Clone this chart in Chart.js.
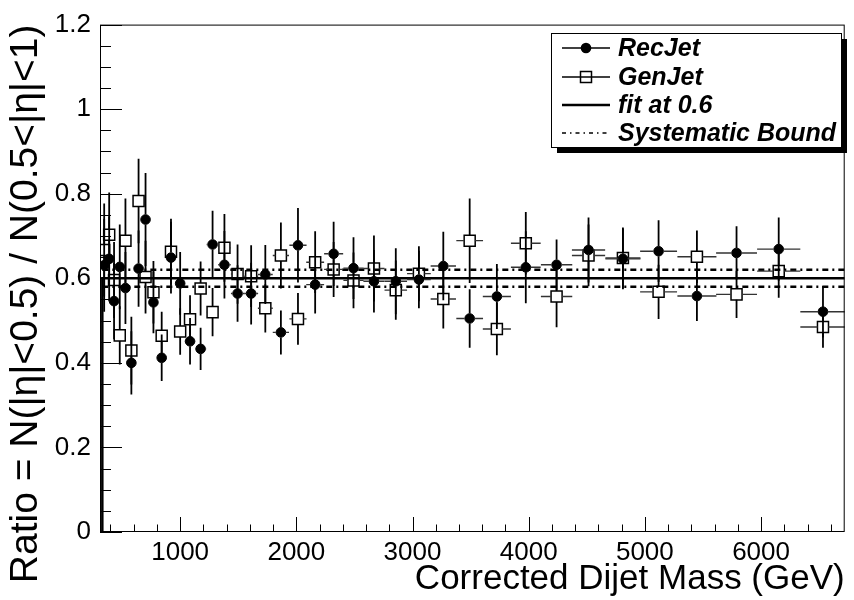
<!DOCTYPE html>
<html><head><meta charset="utf-8">
<script src="https://cdn.jsdelivr.net/npm/chart.js@4/dist/chart.umd.min.js"></script>
<style>html,body{margin:0;padding:0;background:#fff}#wrap{width:854px;height:600px;position:relative}</style>
</head><body><div id="wrap"><canvas id="c"></canvas></div>
<script>
// ---- data ----
const massBins = [346,389,431,480,529,580,642,702,770,841,921,1000,1085,1176,1279,1381,1494,1611,1733,1867,2014,2162,2321,2492,2668,2856,3055,3265,3492,3726,3975,4240,4515,4811,5118,5448,5789,6152,6533];
const massHalfWidth = [21,21,23,24,25,28,30,32,35,38,40,41,44,48,51,54,57,60,64,70,74,77,82,87,91,97,102,109,115,121,128,135,143,151,159,168,176,186,195];
const recRatio = [0.631,0.646,0.546,0.627,0.577,0.400,0.623,0.739,0.543,0.412,0.649,0.588,0.451,0.433,0.680,0.632,0.564,0.564,0.609,0.472,0.678,0.585,0.658,0.624,0.593,0.593,0.597,0.629,0.505,0.557,0.626,0.632,0.667,0.646,0.664,0.558,0.660,0.669,0.521];
const recErr = [0.11,0.10,0.09,0.10,0.085,0.075,0.09,0.11,0.073,0.055,0.085,0.074,0.055,0.05,0.08,0.08,0.067,0.073,0.07,0.052,0.088,0.068,0.076,0.073,0.074,0.078,0.068,0.081,0.069,0.077,0.085,0.06,0.077,0.072,0.073,0.059,0.063,0.075,0.061];
const genRatio = [0.667,0.703,0.596,0.465,0.689,0.429,0.783,0.603,0.567,0.464,0.663,0.474,0.503,0.576,0.520,0.672,0.610,0.605,0.529,0.654,0.504,0.638,0.621,0.595,0.623,0.572,0.611,0.551,0.689,0.480,0.683,0.557,0.654,0.648,0.568,0.651,0.562,0.617,0.485];
const genErr = [0.11,0.10,0.09,0.069,0.10,0.08,0.10,0.086,0.074,0.057,0.078,0.055,0.057,0.064,0.057,0.08,0.07,0.073,0.057,0.078,0.061,0.073,0.065,0.066,0.078,0.07,0.065,0.07,0.10,0.062,0.074,0.073,0.073,0.072,0.064,0.062,0.056,0.063,0.049];
const fitValue = 0.6;
const fitStart = 330;
const systUpper = 0.62;
const systLower = 0.58;
const xRange = [310, 6720];
const yRange = [0, 1.2];
const xTickValues = [1000,2000,3000,4000,5000,6000];
const yTickValues = [0,0.2,0.4,0.6,0.8,1,1.2];

const FONT = "'Liberation Sans', Arial, Helvetica, sans-serif";

function pts(xs, ys){ return xs.map((x,i)=>({x:x, y:ys[i]})); }

const errorBars = {
  id:'errorBars',
  afterDatasetsDraw(chart){
    const {ctx, chartArea:a, scales:{x, y}} = chart;
    ctx.save();
    ctx.beginPath(); ctx.rect(a.left, a.top, a.right-a.left, a.bottom-a.top); ctx.clip();
    chart.data.datasets.forEach(ds=>{
      if(!ds.yErr) return;
      const gap = ds.errGap;
      ds.data.forEach((p,i)=>{
        const px = x.getPixelForValue(p.x), py = y.getPixelForValue(p.y);
        const x0 = x.getPixelForValue(p.x - ds.xErr[i]), x1 = x.getPixelForValue(p.x + ds.xErr[i]);
        const y0 = y.getPixelForValue(p.y + ds.yErr[i]), y1 = y.getPixelForValue(p.y - ds.yErr[i]);
        ctx.strokeStyle = '#000'; ctx.lineWidth = 1.8;
        ctx.beginPath();
        if (py-gap > y0) { ctx.moveTo(px, py-gap); ctx.lineTo(px, y0); }
        if (py+gap < y1) { ctx.moveTo(px, py+gap); ctx.lineTo(px, y1); }
        ctx.stroke();
        ctx.strokeStyle = '#333'; ctx.lineWidth = 1.4;
        ctx.beginPath();
        if (px-gap > x0) { ctx.moveTo(px-gap, py); ctx.lineTo(x0, py); }
        if (px+gap < x1) { ctx.moveTo(px+gap, py); ctx.lineTo(x1, py); }
        ctx.stroke();
      });
    });
    ctx.restore();
  }
};

const frameTicks = {
  id:'frameTicks',
  afterDraw(chart){
    const {ctx, chartArea:a, scales:{x, y}} = chart;
    ctx.save();
    ctx.strokeStyle = '#000'; ctx.lineWidth = 1;
    ctx.strokeRect(a.left+0.5, a.top+0.5, a.right-a.left-1, a.bottom-a.top-1);
    ctx.beginPath();
    for (let k=0; k<=24; k++){
      const py = Math.round(y.getPixelForValue(k*0.05))+0.5;
      const len = (k%4===0) ? 22 : 11;
      ctx.moveTo(a.left, py); ctx.lineTo(a.left+len, py);
    }
    for (let k=2; k<=33; k++){
      const px = Math.round(x.getPixelForValue(k*200))+0.5;
      const len = (k%5===0) ? 15 : 7.5;
      ctx.moveTo(px, a.bottom); ctx.lineTo(px, a.bottom-len);
    }
    ctx.stroke();
    ctx.restore();
  }
};

const rootLegend = {
  id:'rootLegend',
  afterDraw(chart){
    const ctx = chart.ctx;
    const L = {x:551, y:33, w:290, h:114, sh:6};
    ctx.save();
    ctx.fillStyle = '#000'; ctx.fillRect(L.x+L.sh, L.y+L.sh, L.w, L.h);
    ctx.fillStyle = '#fff'; ctx.fillRect(L.x, L.y, L.w, L.h);
    ctx.strokeStyle = '#000'; ctx.lineWidth = 1; ctx.strokeRect(L.x+0.5, L.y+0.5, L.w, L.h);
    const rows = [48, 77, 105, 133];
    const ds = chart.data.datasets;
    const x0 = 562, x1 = 610, xm = 586;
    ctx.font = "italic bold 25px " + FONT;
    ctx.textBaseline = 'middle'; ctx.textAlign = 'left';
    for (let r=0; r<4; r++){
      const d = ds[r], yy = rows[r];
      ctx.strokeStyle = '#000';
      ctx.lineWidth = r===2 ? 2.5 : 1.5;
      ctx.setLineDash(r===3 ? [4,4,1.5,4] : []);
      ctx.beginPath(); ctx.moveTo(x0, yy); ctx.lineTo(x1, yy); ctx.stroke();
      ctx.setLineDash([]);
      if (r===0){ ctx.fillStyle='#000'; ctx.beginPath(); ctx.arc(xm, yy, 5.3, 0, Math.PI*2); ctx.fill(); }
      if (r===1){ ctx.lineWidth=1.5; ctx.strokeRect(xm-5.5, yy-5.5, 11, 11); }
      ctx.fillStyle = '#000';
      ctx.fillText(d.label, 618, yy+1);
    }
    ctx.restore();
  }
};

const chart = new Chart(document.getElementById('c'), {
  type:'scatter',
  data:{ datasets:[
    { label:'RecJet', data:pts(massBins, recRatio), xErr:massHalfWidth, yErr:recErr, errGap:5,
      pointStyle:'circle', pointRadius:4.8, pointHoverRadius:4.8, backgroundColor:'#000', borderColor:'#000', borderWidth:1, order:1 },
    { label:'GenJet', data:pts(massBins, genRatio), xErr:massHalfWidth, yErr:genErr, errGap:5.5,
      pointStyle:'rect', pointRadius:7.8, pointHoverRadius:7.8, backgroundColor:'rgba(0,0,0,0)', borderColor:'#000', borderWidth:1.5, order:2 },
    { label:'fit at 0.6', type:'line', data:[{x:fitStart,y:0},{x:fitStart,y:fitValue},{x:xRange[1],y:fitValue}],
      borderColor:'#000', borderWidth:2.5, pointRadius:0, tension:0, fill:false, order:3 },
    { label:'Systematic Bound', type:'line', data:[{x:fitStart,y:systUpper},{x:xRange[1],y:systUpper}],
      borderColor:'#000', borderWidth:2.5, borderDash:[6,4,2,4], pointRadius:0, fill:false, order:4 },
    { label:'Systematic Bound', type:'line', data:[{x:fitStart,y:systLower},{x:xRange[1],y:systLower}],
      borderColor:'#000', borderWidth:2.5, borderDash:[6,4,2,4], pointRadius:0, fill:false, order:4 }
  ]},
  options:{
    responsive:true, maintainAspectRatio:false, animation:false,
    devicePixelRatio:1,
    layout:{ padding:{ left:0, right:2, top:21, bottom:0 } },
    plugins:{ legend:{display:false}, tooltip:{enabled:false} },
    events:[],
    scales:{
      x:{ type:'linear', min:xRange[0], max:xRange[1],
        afterBuildTicks(s){ s.ticks = xTickValues.map(v=>({value:v})); },
        afterFit(s){ s.height = 68; },
        grid:{display:false, drawTicks:false}, border:{display:false},
        ticks:{ color:'#000', font:{family:FONT, size:26}, padding:5, maxRotation:0, autoSkip:false, callback:v=>String(v) },
        title:{ display:true, text:'Corrected Dijet Mass (GeV)', align:'end', color:'#000',
          font:{family:FONT, size:35, lineHeight:1.2}, padding:{top:0, bottom:0} } },
      y:{ type:'linear', min:yRange[0], max:yRange[1],
        afterBuildTicks(s){ s.ticks = yTickValues.map(v=>({value:v})); },
        afterFit(s){ s.width = 100; },
        grid:{display:false, drawTicks:false}, border:{display:false},
        ticks:{ color:'#000', font:{family:FONT, size:26}, padding:9, autoSkip:false, callback:v=>String(v) },
        title:{ display:true, text:'Ratio = N(|η|<0.5) / N(0.5<|η|<1)', align:'end', color:'#000',
          font:{family:FONT, size:39, lineHeight:1.2}, padding:{top:3, bottom:0} } }
    }
  },
  plugins:[errorBars, frameTicks, rootLegend]
});
</script></body></html>
